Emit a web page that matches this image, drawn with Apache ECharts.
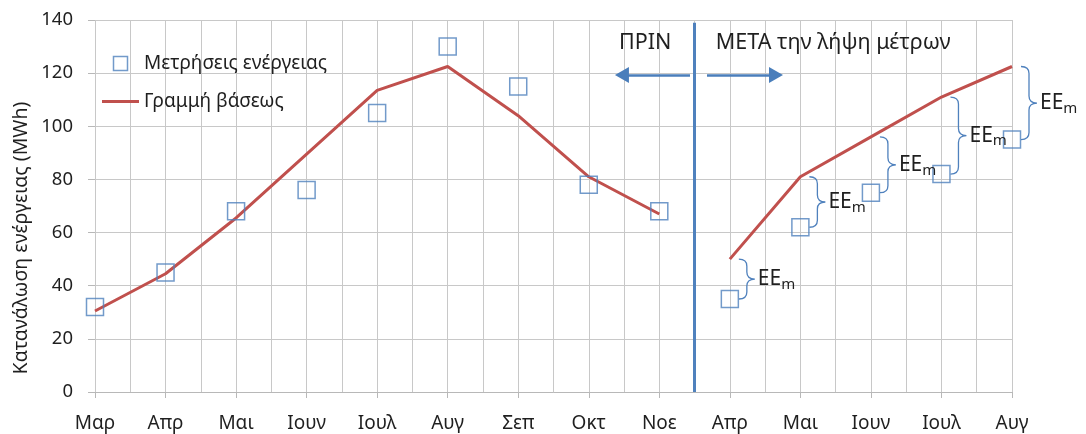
<!DOCTYPE html>
<html>
<head>
<meta charset="utf-8">
<script src="https://cdn.jsdelivr.net/npm/echarts@6/dist/echarts.min.js"></script>
<style>
html,body{margin:0;padding:0;background:#fff;}
#chart{width:1086px;height:434px;}
</style>
</head>
<body>
<div id="chart"></div>
<script>
// ---- data ----
const categories = ['Μαρ','Απρ','Μαι','Ιουν','Ιουλ','Αυγ','Σεπ','Οκτ','Νοε','Απρ','Μαι','Ιουν','Ιουλ','Αυγ'];
const measured   = [32, 45, 68, 76, 105, 130, 115, 78, 68, 35, 62, 75, 82, 95];
const baseline   = [30.5, 44.5, 65.5, 89.5, 113.5, 122.5, 104, 81, 67, 50, 81, 96, 111, 122.5];
const afterStart = 9; // first month after the measures
const yTicks = {min: 0, max: 140, step: 20};
const measuredName = 'Μετρήσεις ενέργειας';
const baselineName = 'Γραμμή βάσεως';
const yTitle = 'Κατανάλωση ενέργειας (MWh)';
const beforeText = 'ΠΡΙΝ';
const afterText = 'ΜΕΤΑ την λήψη μέτρων';

// ---- build ----
const FONT = 'Noto Sans';
const TXT = '#1f1f1f';
const GRID = '#c8c8c8';
const BLUE = '#4f81bd';
const RED = '#c0504d';

const idx = categories.map((_, i) => i);
const measuredPts = idx.map(i => [i, measured[i]]);
const baseBefore = idx.filter(i => i < afterStart).map(i => [i, baseline[i]]);
const baseAfter = idx.filter(i => i >= afterStart).map(i => [i, baseline[i]]);
const braceData = idx.filter(i => i >= afterStart).map(i => [i, baseline[i], measured[i]]);
const splitX = afterStart - 0.5;

function renderBrace(params, api) {
  const x = api.value(0), b = api.value(1), m = api.value(2);
  const pb = api.coord([x, b]);
  const pm = api.coord([x, m]);
  const x0 = pb[0] + 9, w = 16;
  const y0 = pb[1], y1 = pm[1];
  const ym = (y0 + y1) / 2;
  const r = Math.min(7, (y1 - y0) / 4);
  const xm = x0 + w / 2;
  const d = `M${x0},${y0} Q${xm},${y0} ${xm},${y0 + r} L${xm},${ym - r} Q${xm},${ym} ${x0 + w},${ym} ` +
            `Q${xm},${ym} ${xm},${ym + r} L${xm},${y1 - r} Q${xm},${y1} ${x0},${y1}`;
  return {
    type: 'group',
    children: [
      {type: 'path', shape: {pathData: d}, style: {stroke: BLUE, fill: 'none', lineWidth: 1.3}},
      {type: 'text', x: x0 + w + 3, y: ym,
       style: {text: '{a|EE}{b|m}', verticalAlign: 'middle', align: 'left',
         rich: {
           a: {fontSize: 21, fontFamily: FONT, fill: TXT, lineHeight: 26},
           b: {fontSize: 15, fontFamily: FONT, fill: TXT, lineHeight: 26, verticalAlign: 'bottom'}
         }}}
    ]
  };
}

const arrowStyle = {color: '#4a7ebb', width: 2.5, type: 'solid'};
const splitStyle = {color: BLUE, width: 3, type: 'solid'};

const option = {
  animation: false,
  textStyle: {fontFamily: FONT},
  grid: {left: 95, right: 74, top: 20, bottom: 42, containLabel: false},
  legend: {
    orient: 'vertical', left: 97, top: 49, itemWidth: 37, itemHeight: 14, itemGap: 19,
    textStyle: {fontSize: 19, color: TXT, fontFamily: FONT},
    data: [
      {name: measuredName, icon: 'path://M0,0L10,0L10,10L0,10Z',
       itemStyle: {color: 'rgba(0,0,0,0)', borderColor: BLUE, borderWidth: 1.5}},
      {name: baselineName, icon: 'path://M0,0L37,0L37,3L0,3Z',
       itemStyle: {color: RED, borderWidth: 0}}
    ]
  },
  xAxis: {
    type: 'value', min: 0, max: categories.length - 1, interval: 1,
    axisLine: {show: true, lineStyle: {color: '#b8b8b8'}},
    axisTick: {show: true, length: 6, lineStyle: {color: '#b8b8b8'}},
    minorTick: {show: false, splitNumber: 2},
    splitLine: {show: true, lineStyle: {color: GRID}},
    minorSplitLine: {show: true, lineStyle: {color: GRID}},
    axisLabel: {formatter: v => categories[v] || '', fontSize: 19, color: TXT, margin: 22}
  },
  yAxis: {
    type: 'value', min: yTicks.min, max: yTicks.max, interval: yTicks.step,
    axisLine: {show: false},
    axisTick: {show: true, length: 7, lineStyle: {color: '#b8b8b8'}},
    splitLine: {show: true, lineStyle: {color: GRID}},
    axisLabel: {fontSize: 18.5, color: TXT, margin: 22}
  },
  graphic: [
    {type: 'text', x: 21, y: 238, rotation: Math.PI / 2,
     style: {text: yTitle, align: 'center', verticalAlign: 'middle', fontSize: 19.5, fontFamily: FONT, fill: TXT}}
  ],
  series: [
    {
      name: baselineName, type: 'line', data: baseBefore, symbol: 'none', z: 2,
      lineStyle: {color: RED, width: 3}, itemStyle: {color: RED},
      markLine: {
        silent: true, symbol: ['none', 'none'], label: {show: false},
        data: [
          [{coord: [splitX, 0], lineStyle: splitStyle}, {coord: [splitX, 139], lineStyle: splitStyle}],
          [{coord: [8.435, 119.3], lineStyle: arrowStyle},
           {coord: [7.47, 119.3], lineStyle: arrowStyle, symbol: 'triangle', symbolSize: [16, 14]}],
          [{coord: [8.676, 119.3], lineStyle: arrowStyle},
           {coord: [9.654, 119.3], lineStyle: arrowStyle, symbol: 'triangle', symbolSize: [16, 14]}]
        ]
      }
    },
    {
      name: baselineName, type: 'line', data: baseAfter, symbol: 'none', z: 2,
      lineStyle: {color: RED, width: 3}, itemStyle: {color: RED}
    },
    {
      name: measuredName, type: 'scatter', data: measuredPts, symbol: 'rect', symbolSize: 17, z: 3,
      itemStyle: {color: 'rgba(0,0,0,0)', borderColor: BLUE, borderWidth: 1.5},
      markPoint: {
        silent: true, symbol: 'rect', symbolSize: 0,
        label: {show: true, formatter: '{b}', fontSize: 21.5, color: TXT, fontFamily: FONT},
        data: [
          {name: beforeText, coord: [7.8, 131.3], label: {position: 'inside'}},
          {name: afterText, coord: [8.8, 131.3], label: {position: 'right', distance: 0}}
        ]
      }
    },
    {
      type: 'custom', name: 'braces', coordinateSystem: 'cartesian2d', data: braceData,
      encode: {x: 0, y: 1}, renderItem: renderBrace, silent: true, z: 4, clip: false
    }
  ]
};

const chart = echarts.init(document.getElementById('chart'));
chart.setOption(option);
</script>
</body>
</html>
